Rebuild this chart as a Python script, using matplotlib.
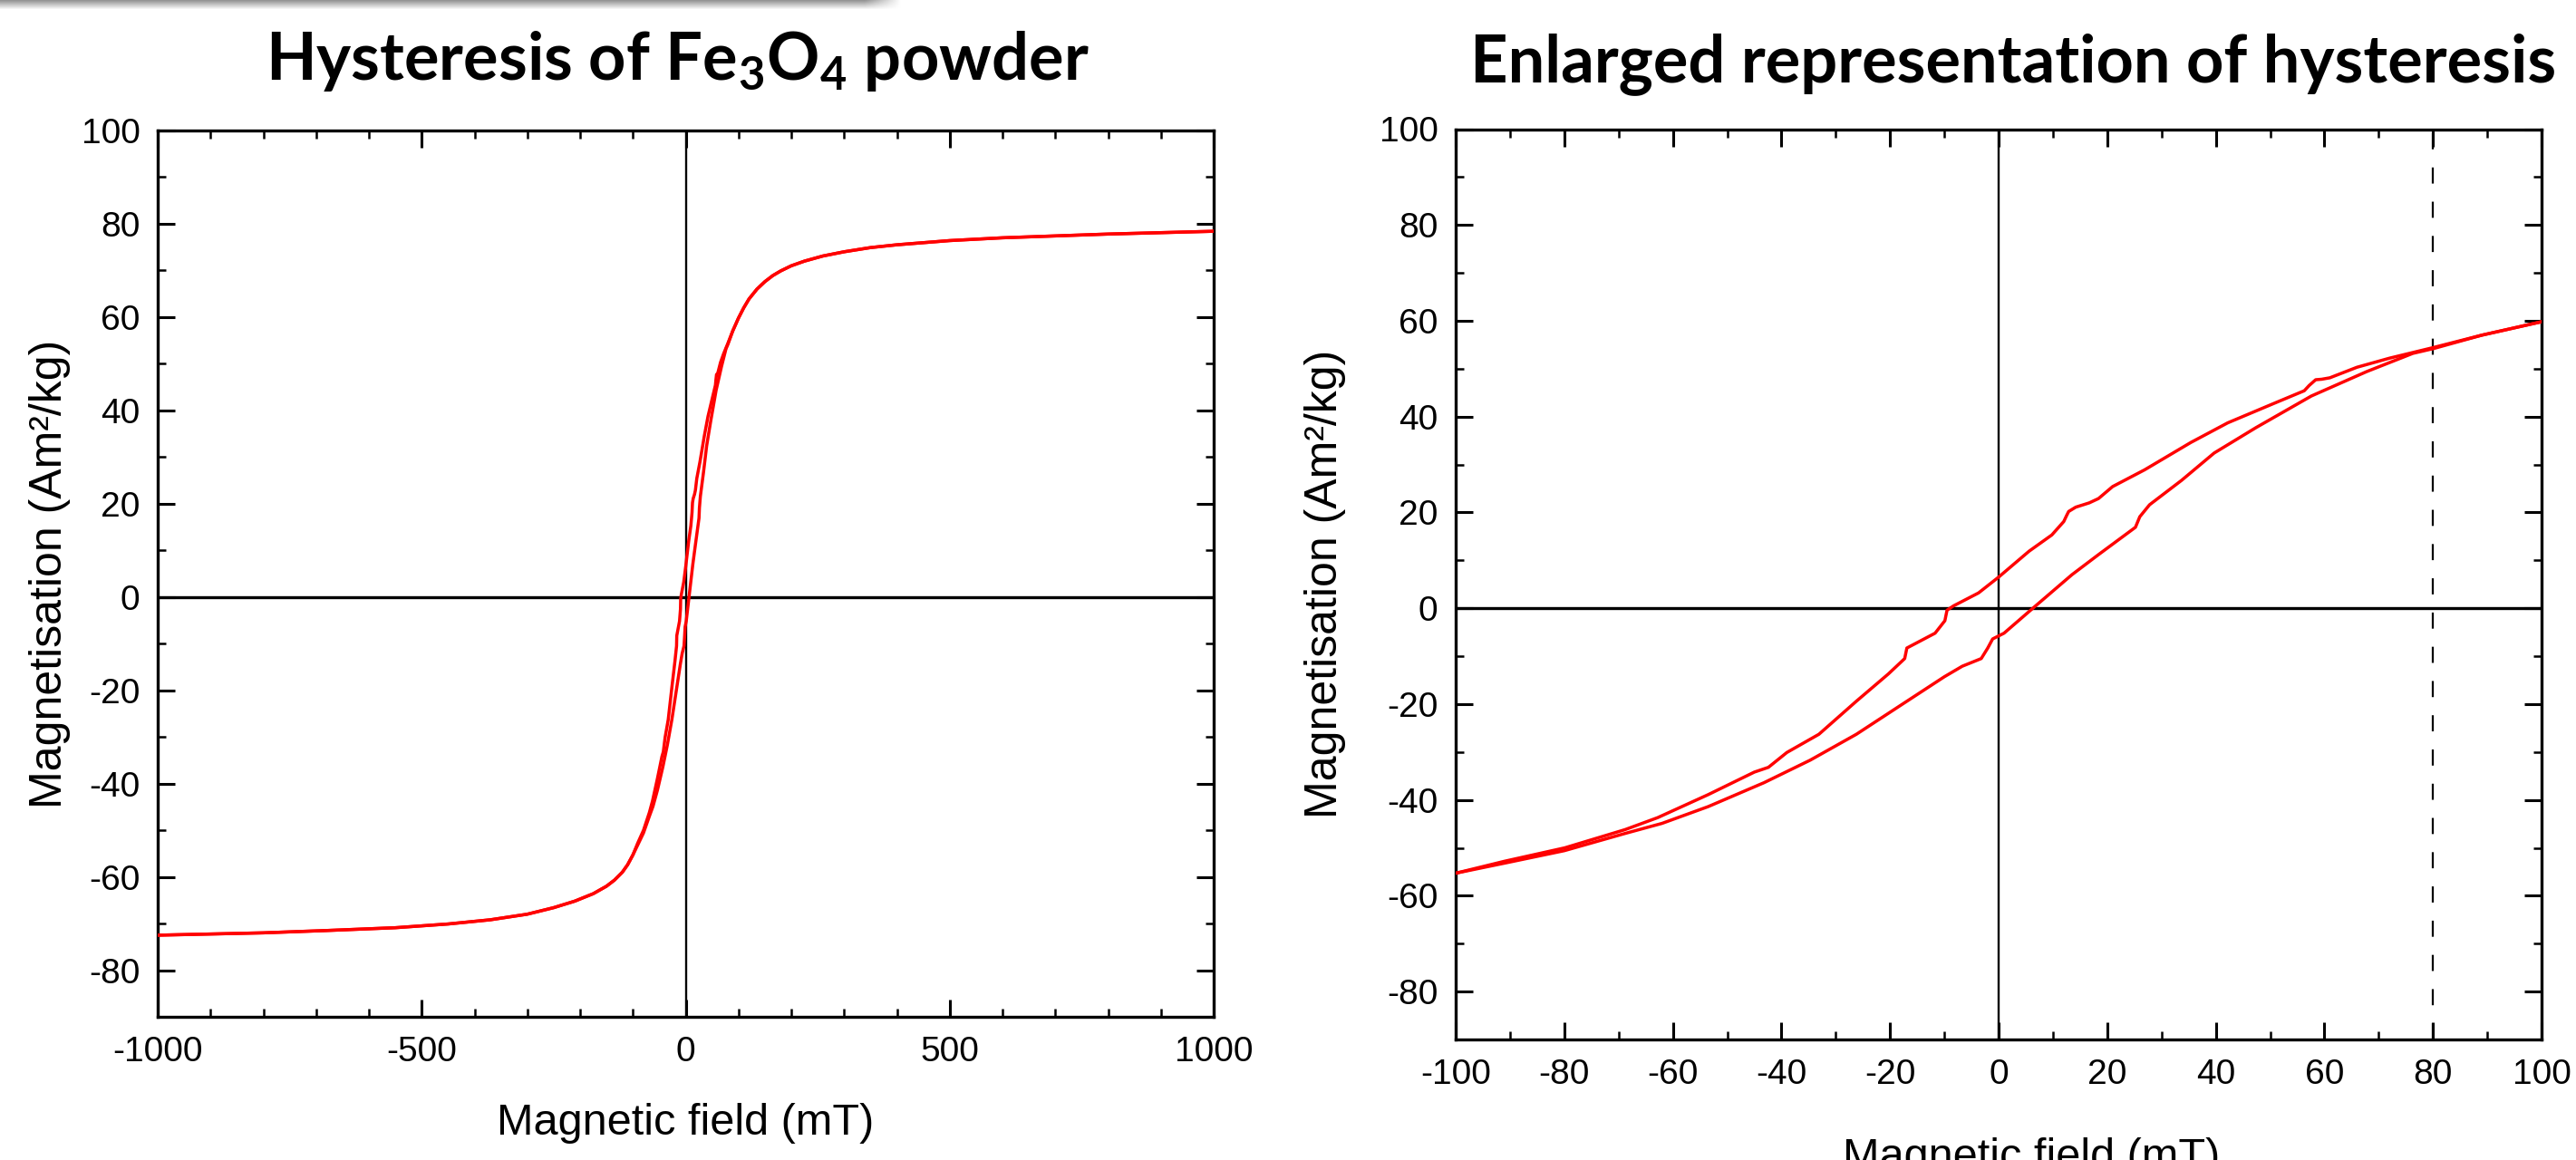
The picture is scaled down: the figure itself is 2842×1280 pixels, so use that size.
import numpy as np
import matplotlib
matplotlib.use('Agg')
import matplotlib.pyplot as plt
from matplotlib.ticker import MultipleLocator

plt.rcParams['font.family'] = ['Liberation Sans', 'DejaVu Sans']
plt.rcParams['axes.unicode_minus'] = False
plt.rcParams['mathtext.fontset'] = 'custom'
plt.rcParams['mathtext.rm'] = 'Lato:bold'
plt.rcParams['mathtext.it'] = 'Lato:bold'
plt.rcParams['mathtext.bf'] = 'Lato:bold'

# Descending branch (field going from +1000 to -1000 mT)
desc_field = [1000, 800, 600, 500, 400, 350, 300, 260, 225, 200, 180, 165, 150, 135, 120, 110,
              100, 89, 80, 72, 66, 61,
              59.5, 58.4, 57.2, 56.3, 50.8, 42.2, 35.4, 26.9, 21.0, 18.4, 16.7, 14.2,
              12.9, 12.5, 12.0, 9.8, 5.6, 0, -3.7, -8.3, -9.5, -9.9, -11.7, -16.9,
              -17.3, -20.3, -26.2, -33.1, -39.0, -42.4, -45.0, -53.5, -62.8, -68.8,
              -79.9, -91, -100, -110, -120, -135, -150, -175, -210, -250, -300, -370,
              -450, -550, -680, -800, -1000]
desc_mag = [78.4, 77.8, 77.0, 76.4, 75.5, 74.9, 74.0, 73.1, 72.0, 71.0, 69.9, 68.9, 67.6, 66.0, 63.9, 62.0,
            59.8, 57.0, 54.4, 52.2, 50.3, 48.1,
            47.8, 47.7, 46.5, 45.4, 42.8, 38.7, 34.6, 28.9, 25.4, 22.9, 22.0, 21.1,
            20.2, 19.3, 18.1, 15.3, 11.9, 6.5, 3.2, 0.5, -0.4, -2.6, -5.2, -8.3,
            -10.5, -13.7, -19.4, -26.3, -30.1, -33.2, -34.2, -38.9, -43.7, -46.2,
            -50.0, -52.8, -55.3, -57.4, -59.0, -60.7, -62.0, -63.6, -65.2, -66.6, -68.0, -69.2,
            -70.1, -70.9, -71.5, -72.0, -72.5]

# Ascending branch (field going from -1000 to +1000 mT)
asc_field = [-1000, -800, -680, -550, -450, -370, -300, -250, -210, -175, -150, -135, -120,
             -110, -100, -91, -80, -68.8, -62.0,
             -53.5, -43.2, -34.7, -26.2, -17.7, -10.0, -6.7, -3.2, -2.0, -1.1, 1.0, 6.2,
             13.5, 18.4, 25.2, 26.0, 27.8, 33.7, 39.7, 47.4, 57.6, 67.8, 76.3, 80.1, 89,
             100, 110, 120, 135, 150, 165, 180, 200, 225, 260, 300, 350, 400, 500, 600, 800, 1000]
asc_mag = [-72.5, -72.0, -71.5, -70.9, -70.1, -69.2, -68.0, -66.6, -65.2, -63.6, -62.0, -60.7, -59.0,
           -57.4, -55.3, -53.2, -50.6, -47.0, -44.9,
           -41.4, -36.4, -31.7, -26.3, -20.0, -14.3, -12.1, -10.5, -8.3, -6.4, -5.2, -0.1,
           7.0, 11.2, 16.9, 19.1, 21.6, 26.7, 32.4, 37.7, 44.3, 49.4, 53.2, 54.2, 57.0,
           59.8, 62.0, 63.9, 66.0, 67.6, 68.9, 69.9, 71.0, 72.0, 73.1, 74.0, 74.9, 75.5, 76.4, 77.0, 77.8, 78.4]

left_xticks = [-1000, -500, 0, 500, 1000]
right_xticks = [-100, -80, -60, -40, -20, 0, 20, 40, 60, 80, 100]
yticks = [-80, -60, -40, -20, 0, 20, 40, 60, 80, 100]
marker_field = 80

W, H = 2842, 1280
fig = plt.figure(figsize=(W / 100, H / 100), dpi=100)

# grey drop shadow strip at the top left
sh = fig.add_axes([0, 1 - 11 / H, 995 / W, 11 / H])
v = np.linspace(0.42, 0.0, 11)[:, None]
h = np.clip((1.0 - np.linspace(0, 1, 400)) / 0.04, 0, 1)[None, :]
sh.imshow(1 - v * h, cmap='gray', vmin=0, vmax=1, aspect='auto', interpolation='bilinear')
sh.axis('off')

ax1 = fig.add_axes([174 / W, 1 - 1122 / H, (1339 - 174) / W, (1122 - 144) / H])
ax2 = fig.add_axes([1606 / W, 1 - 1147 / H, (2804 - 1606) / W, (1147 - 142.5) / H])

red = '#ff0000'
for ax in (ax1, ax2):
    ax.axhline(0, color='black', lw=2.4, zorder=2)
    ax.axvline(0, color='black', lw=1.7, zorder=2)
    ax.plot(desc_field, desc_mag, color=red, lw=2.5, zorder=3)
    ax.plot(asc_field, asc_mag, color=red, lw=2.5, zorder=3)
    ax.set_ylim(-90, 100)
    ax.set_yticks(yticks)
    ax.yaxis.set_minor_locator(MultipleLocator(10))
    for s in ax.spines.values():
        s.set_linewidth(2.4)
    ax.tick_params(which='both', direction='in', top=True, right=True)
    ax.tick_params(which='major', length=14, width=2.2, labelsize=28)
    ax.tick_params(which='minor', length=6.8, width=1.8)
    ax.tick_params(axis='x', pad=15)
    ax.tick_params(axis='y', pad=14)
    ax.set_xlabel('Magnetic field (mT)', fontsize=35)
    ax.set_ylabel('Magnetisation (Am²/kg)', fontsize=36)

ax1.set_xlim(-1000, 1000)
ax1.set_xticks(left_xticks)
ax1.xaxis.set_minor_locator(MultipleLocator(100))
ax1.xaxis.set_label_coords(0.5, -0.097)
ax1.yaxis.set_label_coords(-0.0824, 0.5)

ax2.set_xlim(-100, 100)
ax2.set_xticks(right_xticks)
ax2.xaxis.set_minor_locator(MultipleLocator(10))
ax2.axvline(marker_field, color='black', lw=1.6, ls=(0, (8, 9)), zorder=2)
ax2.xaxis.set_label_coords(0.53, -0.1075)
ax2.yaxis.set_label_coords(-0.101, 0.5)

fig.text(747 / W, 1 - 88 / H, r'Hysteresis of Fe$_3$O$_4$ powder', ha='center', va='baseline',
         fontsize=52, fontweight='bold', family='Lato')
fig.text(2221 / W, 1 - 90 / H, 'Enlarged representation of hysteresis', ha='center', va='baseline',
         fontsize=52, fontweight='bold', family='Lato')

fig.savefig('out.png', dpi=100)
